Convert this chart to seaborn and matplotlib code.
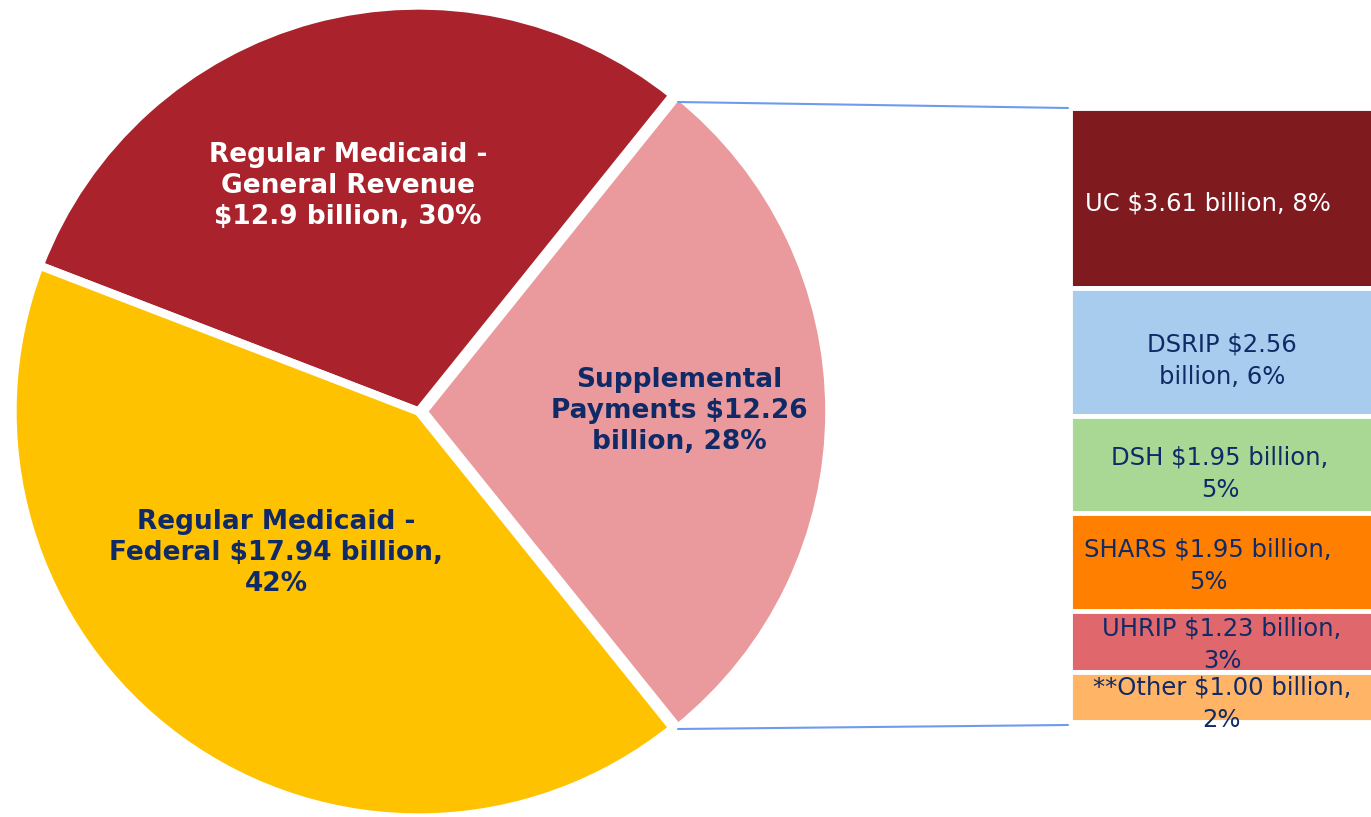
import matplotlib
matplotlib.use("Agg")
import matplotlib.pyplot as plt
import seaborn as sns

sns.set_theme(style="white")
plt.rcParams['font.family'] = ['DejaVu Sans']

# ---- data ----
pie_labels = ["Supplemental\nPayments $12.26\nbillion, 28%",
              "Regular Medicaid -\nGeneral Revenue\n$12.9 billion, 30%",
              "Regular Medicaid -\nFederal $17.94 billion,\n42%"]
pie_values = [12.26, 12.9, 17.94]
pie_colors = ["#EA9A9C", "#AA222B", "#FFC200"]
pie_text_colors = ["#0F2A66", "#FFFFFF", "#0F2A66"]

bar_labels = ["UC $3.61 billion, 8%", "DSRIP $2.56\nbillion, 6%", "DSH $1.95 billion,\n5%",
              "SHARS $1.95 billion,\n5%", "UHRIP $1.23 billion,\n3%", "**Other $1.00 billion,\n2%"]
bar_values = [3.61, 2.56, 1.95, 1.95, 1.23, 1.00]
bar_colors = ["#7F1A1F", "#A8CCEE", "#A8D894", "#FF8000", "#E0686D", "#FFB466"]
bar_text_colors = ["#FFFFFF", "#0F2A66", "#0F2A66", "#0F2A66", "#0F2A66", "#0F2A66"]

W, H = 1371, 817
fig = plt.figure(figsize=(W / 100, H / 100), dpi=100)

# pie axes
r_px = 406
cx, cy = 418.5, 411.5
ax_pie = fig.add_axes([(cx - r_px) / W, 1 - (cy + r_px) / H, 2 * r_px / W, 2 * r_px / H])
total = sum(pie_values)
start = -pie_values[0] / total * 360 / 2
wedges, _ = ax_pie.pie(pie_values, colors=pie_colors, startangle=start, counterclock=True,
                       explode=[0.012, 0, 0], radius=1.0,
                       wedgeprops=dict(edgecolor="white", linewidth=6, joinstyle="miter"))
ax_pie.set_xlim(-1.0, 1.0)
ax_pie.set_ylim(-1.0, 1.0)
ax_pie.set_aspect("equal")
ax_pie.axis("off")

pie_label_px = [(679, 411), (348, 186), (276, 553)]
for lab, col, (px, py) in zip(pie_labels, pie_text_colors, pie_label_px):
    fig.text(px / W, 1 - py / H, lab, ha="center", va="center", color=col,
             fontsize=19, fontweight="bold", linespacing=1.27)

# bar axes
bx0, bx1 = 1070, 1380
by0, by1 = 108, 722
ax_bar = fig.add_axes([bx0 / W, 1 - by1 / H, (bx1 - bx0) / W, (by1 - by0) / H])
bottom = 0.0
tot_bar = sum(bar_values)
for lab, v, c, tc in zip(bar_labels, bar_values, bar_colors, bar_text_colors):
    ax_bar.bar(0, v, bottom=bottom, width=1.0, color=c, edgecolor="white", linewidth=3.5)
    bottom += v
ax_bar.set_xlim(-0.5, 0.5)
ax_bar.set_ylim(tot_bar, 0)
ax_bar.axis("off")

bar_label_px = [(1208, 204), (1222, 361), (1220, 474), (1208, 566), (1222, 645), (1222, 704)]
for lab, tc, (px, py) in zip(bar_labels, bar_text_colors, bar_label_px):
    fig.text(px / W, 1 - py / H, lab, ha="center", va="center", color=tc,
             fontsize=17.5, linespacing=1.45)

# connector lines
line_col = "#6F9BEF"
fig.add_artist(plt.Line2D([678 / W, 1068 / W], [1 - 102 / H, 1 - 108 / H],
                          color=line_col, linewidth=1.5, transform=fig.transFigure))
fig.add_artist(plt.Line2D([678 / W, 1068 / W], [1 - 729 / H, 1 - 725 / H],
                          color=line_col, linewidth=1.5, transform=fig.transFigure))

fig.savefig("out.png", dpi=100, facecolor="white")
